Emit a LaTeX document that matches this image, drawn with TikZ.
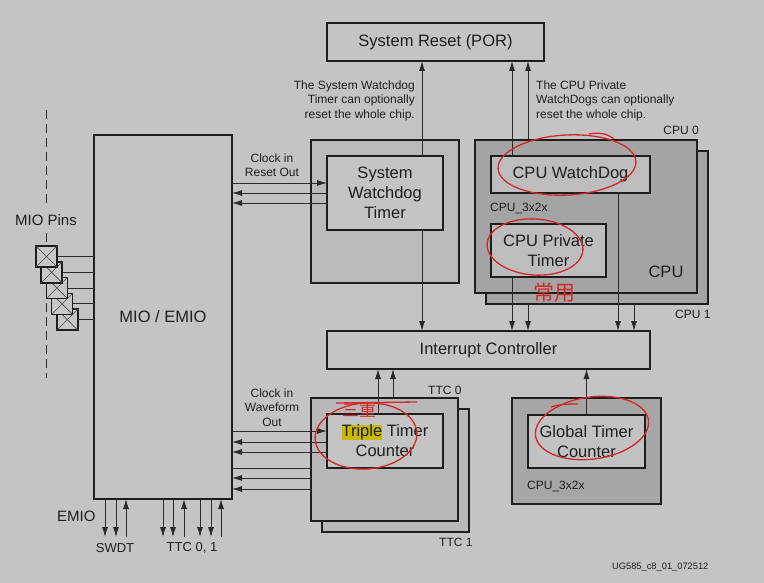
\documentclass[tikz,border=0pt]{standalone}
\usepackage{fontspec}
\setmainfont{Liberation Sans}
\newfontfamily\cjk{Noto Sans CJK SC}
\usetikzlibrary{arrows.meta,calc}
\definecolor{bg}{HTML}{C4C4C4}
\definecolor{ink}{HTML}{1E1E1E}
\definecolor{ln}{HTML}{2A2A2A}
\definecolor{swo}{HTML}{BABABA}
\definecolor{ttco}{HTML}{B8B8B8}
\definecolor{cpuf}{HTML}{A4A4A4}
\definecolor{cpuin}{HTML}{BDBDBD}
\definecolor{gto}{HTML}{A6A6A6}
\definecolor{gti}{HTML}{C2C2C2}
\definecolor{redink}{RGB}{210,40,40}
\definecolor{hl}{RGB}{200,185,0}
\newcommand\FB{\fontsize{16.5}{20}\selectfont}
\newcommand\FM{\fontsize{15}{18}\selectfont}
\newcommand\FN{\fontsize{13}{15}\selectfont}
\newcommand\FS{\fontsize{12}{14.5}\selectfont}
\newcommand\FT{\fontsize{9.3}{11}\selectfont}
\begin{document}
\begin{tikzpicture}[x=1pt,y=-1pt,
  bx/.style={draw=ink, line width=1.6pt, inner sep=0pt, outer sep=0pt, anchor=north west, font=\FB, text=ink, align=center},
  pinbox/.style={draw=ink, line width=1.5pt, fill=bg!95!white, inner sep=0pt, outer sep=0pt, minimum size=21pt, anchor=north west},
  xcross/.style={draw=ink!80, line width=0.7pt},
  arr/.style={-{Latex[length=10pt,width=6pt]}, line width=0.9pt, draw=ln},
  plain/.style={line width=0.9pt, draw=ln},
  lbl/.style={font=\FS, text=ink, inner sep=0pt, align=center},
  rednote/.style={draw=redink, line width=1.3pt},
]
\useasboundingbox (0,0) rectangle (764,583);
\fill[bg] (0,0) rectangle (764,583);

% ---- boxes ----
\node[bx, fill=bg, minimum width=217pt, minimum height=38pt] (sr) at (327,23) {System Reset (POR)};
\node[bx, fill=bg, minimum width=138pt, minimum height=364pt] (mio) at (94,135) {MIO / EMIO};
\node[bx, fill=swo, minimum width=148pt, minimum height=143pt] (swdto) at (311,140) {};
\node[bx, fill=bg, minimum width=116pt, minimum height=74pt] (swdti) at (327,156) {System\\Watchdog\\Timer};
\node[bx, fill=cpuf, minimum width=222pt, minimum height=153pt] (cpu1) at (486,151) {};
\node[bx, fill=cpuf, minimum width=222pt, minimum height=153pt] (cpu0) at (475,140) {};
\node[bx, fill=cpuin, minimum width=159pt, minimum height=37pt] (cwd) at (491,156) {CPU WatchDog};
\node[bx, fill=cpuin, minimum width=115pt, minimum height=53pt] (cpt) at (491,224) {CPU Private\\Timer};
\node[bx, fill=bg, minimum width=323pt, minimum height=38pt] (ic) at (327,331) {Interrupt Controller};
\node[bx, fill=ttco, minimum width=147pt, minimum height=123pt] (ttc1) at (322,409) {};
\node[bx, fill=ttco, minimum width=147pt, minimum height=123pt] (ttc0) at (311,398) {};
\node[bx, fill=bg, minimum width=116pt, minimum height=54pt] (ttci) at (327,414) {{\setlength\fboxsep{0pt}\colorbox{hl}{Triple}} Timer\\Counter};
\node[bx, fill=gto, minimum width=149pt, minimum height=106pt] (gto) at (512,398) {};
\node[bx, fill=gti, minimum width=117pt, minimum height=53pt] (gti) at (528,415) {Global Timer\\Counter};

% ---- column / row coordinates ----
\coordinate (c422) at (422,0);
\coordinate (c512) at (512,0);
\coordinate (c528) at (528,0);
\coordinate (c618) at (618,0);
\coordinate (c634) at (634,0);
\coordinate (c378) at (378,0);
\coordinate (c393) at (393,0);
\coordinate (r183) at (0,183);
\coordinate (r193) at (0,193);
\coordinate (r203) at (0,203);
\coordinate (r431) at (0,431);
\coordinate (r442) at (0,442);
\coordinate (r452) at (0,452);
\coordinate (r468) at (0,468);
\coordinate (r478) at (0,478);
\coordinate (r489) at (0,489);

% ---- vertical connectors ----
\draw[arr] (swdti.north -| c422) -- (sr.south -| c422);
\draw[arr] (swdti.south -| c422) -- (ic.north -| c422);
\draw[arr] (cwd.north -| c512) -- (sr.south -| c512);
\draw[arr] (cpu0.north -| c528) -- (sr.south -| c528);
\draw[arr] (cpt.south -| c512) -- (ic.north -| c512);
\draw[arr] (cpu1.south -| c528) -- (ic.north -| c528);
\draw[arr] (cwd.south -| c618) -- (ic.north -| c618);
\draw[arr] (cpu1.south -| c634) -- (ic.north -| c634);
\draw[arr] (ttci.north -| c378) -- (ic.south -| c378);
\draw[arr] (ttc0.north -| c393) -- (ic.south -| c393);
\draw[arr] (gti.north) -- (ic.south -| gti.north);

% ---- horizontal connectors ----
\draw[arr] (mio.east |- r183) -- (swdti.west |- r183);
\draw[arr] (swdti.west |- r193) -- (mio.east |- r193);
\draw[arr] (swdti.west |- r203) -- (mio.east |- r203);
\draw[arr] (mio.east |- r431) -- (ttci.west |- r431);
\draw[arr] (ttci.west |- r442) -- (mio.east |- r442);
\draw[arr] (ttci.west |- r452) -- (mio.east |- r452);
\draw[plain] (mio.east |- r468) -- (ttc0.west |- r468);
\draw[arr] (ttc0.west |- r478) -- (mio.east |- r478);
\draw[arr] (ttc0.west |- r489) -- (mio.east |- r489);

% ---- bottom EMIO arrows ----
\foreach \x/\d in {105/d,116/d,126/u,163/d,173/d,184/u,200/d,211/d,221/u} {
  \coordinate (b\x) at (\x,537);
  \if\d d
    \draw[arr] (mio.south -| b\x) -- (b\x);
  \else
    \draw[arr] (b\x) -- (mio.south -| b\x);
  \fi
}

% ---- MIO pins ----
\coordinate (dtop) at (46,110);
\coordinate (dm1) at (46,205);
\coordinate (dm2) at (46,233);
\coordinate (dbot) at (46,378);
\draw[ln, line width=0.9pt, dash pattern=on 9pt off 5pt] (dtop) -- (dm1) (dm2) -- (dbot);
\foreach \i in {5,4,3,2,1} {
  \node[pinbox] (pin\i) at ({36+5.2*(\i-1)},{246+15.8*(\i-1)}) {};
  \draw[plain] (pin\i.east) -- (mio.west |- pin\i.east);
  \draw[xcross] (pin\i.north west) -- (pin\i.south east) (pin\i.north east) -- (pin\i.south west);
}

% ---- labels ----
\node[lbl, font=\FM] (miopins) at (46,220) {MIO Pins};
\node[lbl, anchor=east, align=right] (swnote) at (415,100.5) {The System Watchdog\\Timer can optionally\\reset the whole chip.};
\node[lbl, anchor=west, align=left] (cpunote) at (536,100.5) {The CPU Private\\WatchDogs can optionally\\reset the whole chip.};
\node[lbl] (clk1) at (272,165) {Clock in\\Reset Out};
\node[lbl] (clk2) at (272,407.5) {Clock in\\Waveform\\Out};
\node[lbl, anchor=east] (cpu0l) at (699,130) {CPU 0};
\node[lbl, anchor=west] (cpu1l) at (675,314) {CPU 1};
\node[lbl, anchor=west] (cpu3a) at (490,209) {CPU\_3x2x};
\node[lbl, font=\FB] (cpul) at (666,272) {CPU};
\node[lbl, anchor=west] (ttc0l) at (428,390) {TTC 0};
\node[lbl, anchor=west] (ttc1l) at (439,542) {TTC 1};
\node[lbl, anchor=west] (cpu3b) at (527,487) {CPU\_3x2x};
\node[lbl, anchor=west, font=\FT] (ug) at (612,567) {UG585\_c8\_01\_072512};
\node[lbl, anchor=west, font=\FM] (emio) at (57,516) {EMIO};
\node[lbl, font=\FN] (swdt) at (115,548) {SWDT};
\node[lbl, font=\FN] (ttc01) at (192,548) {TTC 0, 1};

% ---- red handwritten annotations ----
\draw[rednote, rotate around={3:(567,165)}] (567,165) ellipse [x radius=69pt, y radius=30pt];
\draw[rednote] (589,134) .. controls (600,132) and (608,134) .. (614,139);
\draw[rednote, rotate around={-4:(535,247)}] (535,247) ellipse [x radius=48pt, y radius=28pt];
\draw[rednote, rotate around={4:(366,436)}] (366,436) ellipse [x radius=51pt, y radius=33pt];
\draw[rednote] (336,403) -- (417,402);
\draw[rednote, rotate around={8:(592,428)}] (592,428) ellipse [x radius=57pt, y radius=31pt];
\draw[rednote] (551,407) .. controls (560,404) and (570,404) .. (578,404);
\node[inner sep=0pt, text=redink, font=\cjk\fontsize{21}{24}\selectfont] (cy) at (554,293) {常用};
\node[inner sep=0pt, text=redink, font=\cjk\fontsize{17}{20}\selectfont] (sz) at (359,410) {三重};
\end{tikzpicture}
\end{document}
